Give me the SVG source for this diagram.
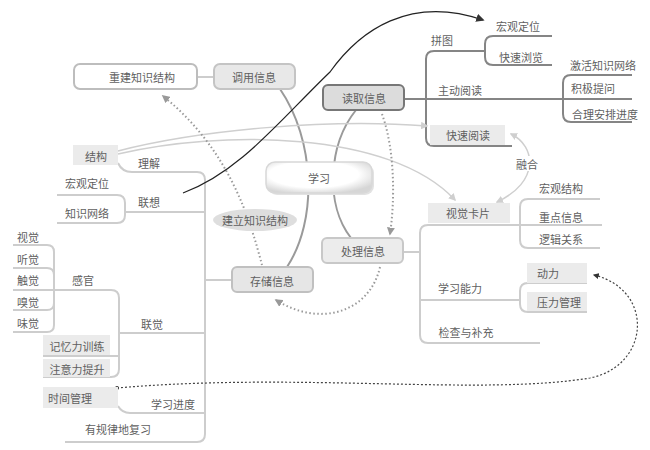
<svg xmlns="http://www.w3.org/2000/svg" width="650" height="450" viewBox="0 0 650 450">
<style>
.t{font-family:"Noto Sans CJK SC","Noto Sans",sans-serif;font-size:11px;fill:#5f5f5f;dominant-baseline:central}
.m{text-anchor:middle}
.ln{fill:none;stroke:#cdcdcd;stroke-width:2}
.dk{fill:none;stroke:#858585;stroke-width:2}
.hub{fill:none;stroke:#9a9a9a;stroke-width:2}
.gbox{fill:#ebebeb}
.dot{fill:none;stroke:#9a9a9a;stroke-width:2;stroke-dasharray:1.5 2.5}
.thin{fill:none;stroke:#cfcfcf;stroke-width:1.5}
</style>
<defs>
<marker id="ag" viewBox="0 0 10 10" refX="8" refY="5" markerWidth="4" markerHeight="4" orient="auto"><path d="M0,0 L10,5 L0,10 z" fill="#999"/></marker>
<marker id="al" viewBox="0 0 10 10" refX="8" refY="5" markerWidth="5" markerHeight="5" orient="auto-start-reverse"><path d="M0,0 L10,5 L0,10 z" fill="#cfcfcf"/></marker>
<marker id="ad" viewBox="0 0 10 10" refX="8" refY="5" markerWidth="5" markerHeight="5" orient="auto"><path d="M0,0 L10,5 L0,10 z" fill="#333"/></marker>
<marker id="ad2" viewBox="0 0 10 10" refX="8" refY="5" markerWidth="7" markerHeight="7" orient="auto"><path d="M0,0 L10,5 L0,10 z" fill="#333"/></marker>
<marker id="dotstart" viewBox="0 0 10 10" refX="5" refY="5" markerWidth="4" markerHeight="4"><circle cx="5" cy="5" r="4" fill="#333"/></marker>
<radialGradient id="gl" cx="45%" cy="40%" r="65%">
<stop offset="65%" stop-color="#ffffff"/><stop offset="100%" stop-color="#d6d6d6"/>
</radialGradient>
</defs>
<rect width="650" height="450" fill="#fff"/>

<g id="connectors">
<path class="hub" d="M280,89 C315,140 318,220 287,267"/>
<path class="hub" d="M356,110 C328,145 325,205 351,238"/>
<line class="ln" x1="197" y1="77" x2="214" y2="77"/>
<path class="ln" d="M118,163 Q122,172 132,172 L197,172 Q205,172 205,180 L205,434 Q205,442 197,442 L65,442"/>
<path class="ln" d="M205,212 L125,212"/>
<path class="ln" d="M57,195 L117,195 Q125,195 125,203 L125,215 Q125,223 117,223 L57,223"/>
<path class="ln" d="M205,280 L232,280"/>
<path class="ln" d="M205,333 L119,333"/>
<path class="ln" d="M13,290 L111,290 Q119,290 119,298 L119,369 Q119,377 111,377 L43,377"/>
<path class="ln" d="M43,356 L119,356"/>
<path class="ln" d="M13,245 L47,245 Q54,245 54,252 L54,325 Q54,332 47,332 L13,332"/>
<path class="ln" d="M13,268 L47,268 Q54,268 54,275"/>
<path class="ln" d="M13,310 L47,310 Q54,310 54,303"/>
<path class="ln" d="M118,406 Q122,413 130,413 L205,413"/>
<path class="dk" d="M404,99 L632,99"/>
<path class="dk" d="M485,51 L434,51 Q426,51 426,59 L426,138 Q426,146 434,146 L512,146"/>
<path class="dk" d="M552,36 L493,36 Q485,36 485,44 L485,57 Q485,65 493,65 L552,65"/>
<path class="dk" d="M632,75 L571,75 Q563,75 563,83 L563,114 Q563,122 571,122 L632,122"/>
<path class="ln" d="M403,252 L420,252"/>
<path class="ln" d="M602,225 L428,225 Q420,225 420,233 L420,335 Q420,343 428,343 L540,343"/>
<path class="ln" d="M420,300 L520,300"/>
<path class="ln" d="M600,199 L528,199 Q520,199 520,207 L520,240 Q520,248 528,248 L600,248"/>
<path class="ln" d="M587,283 L528,283 Q520,283 520,291 L520,304 Q520,312 528,312 L587,312"/>
<path class="thin" d="M118,151 C200,130 330,118 427,126" marker-end="url(#al)"/>
<path class="thin" d="M118,154 C220,130 390,130 455,200" marker-end="url(#al)"/>
<path class="thin" d="M511,134 C536,146 540,182 497,202" marker-start="url(#al)" marker-end="url(#al)"/>
<path class="dot" d="M262,265 C250,220 230,150 163,96" marker-end="url(#ag)"/>
<path class="dot" d="M382,114 C395,150 395,200 390,234" marker-end="url(#ag)"/>
<path class="dot" d="M380,267 C370,312 320,328 276,300" marker-end="url(#ag)"/>
<path fill="none" stroke="#444" stroke-width="1.2" stroke-dasharray="2 2" d="M117,388 C300,372 480,396 590,378 C650,366 655,290 594,275" marker-start="url(#dotstart)" marker-end="url(#ad)"/>
<path fill="none" stroke="#222" stroke-width="1.2" d="M183,193 C240,172 280,120 330,72 C360,30 410,-5 483,20" marker-end="url(#ad2)"/>
</g>

<g id="n-rebuild"><rect x="74" y="64" width="123" height="25" rx="6" fill="#fff" stroke="#bdbdbd" stroke-width="2"/><text class="t m" x="142" y="77">重建知识结构</text></g>
<g id="n-call"><rect x="214" y="64" width="81" height="25" rx="6" fill="#e8e8e8" stroke="#c4c4c4" stroke-width="2"/><text class="t m" x="254" y="77">调用信息</text></g>
<g id="n-read"><rect x="323" y="85" width="81" height="25" rx="5" fill="#dcdcdc" stroke="#777" stroke-width="2"/><text class="t m" x="364" y="98">读取信息</text></g>
<g id="n-learn"><rect x="268" y="164" width="106" height="31" rx="9" fill="#e2e2e2"/><rect x="266" y="162" width="106" height="31" rx="9" fill="url(#gl)" stroke="#d8d8d8" stroke-width="1.5"/><text class="t m" x="319" y="178">学习</text></g>
<g id="n-process"><rect x="322" y="238" width="81" height="25" rx="5" fill="#ececec" stroke="#c8c8c8" stroke-width="2"/><text class="t m" x="363" y="251">处理信息</text></g>
<g id="n-store"><rect x="232" y="267" width="81" height="25" rx="5" fill="#e6e6e6" stroke="#c0c0c0" stroke-width="2"/><text class="t m" x="272" y="281">存储信息</text></g>
<g id="n-build"><ellipse cx="255" cy="220" rx="42" ry="11" fill="#dedede"/><text class="t m" x="255" y="220">建立知识结构</text></g>

<g id="n-structure"><rect class="gbox" x="73" y="145" width="45" height="20"/><text class="t m" x="96" y="156">结构</text></g>
<g id="n-understand"><text class="t" x="138" y="163">理解</text></g>
<g id="n-macro1"><text class="t m" x="87" y="183">宏观定位</text></g>
<g id="n-network"><text class="t m" x="87" y="213">知识网络</text></g>
<g id="n-associate"><text class="t" x="138" y="202">联想</text></g>
<g id="n-senses">
<text class="t m" x="28" y="237">视觉</text>
<text class="t m" x="28" y="259">听觉</text>
<text class="t m" x="28" y="280">触觉</text>
<text class="t m" x="28" y="302">嗅觉</text>
<text class="t m" x="28" y="323">味觉</text>
</g>
<g id="n-sense"><text class="t m" x="83" y="280">感官</text></g>
<g id="n-synes"><text class="t m" x="152" y="324">联觉</text></g>
<g id="n-memory"><rect class="gbox" x="43" y="335" width="67" height="20"/><text class="t m" x="77" y="346">记忆力训练</text></g>
<g id="n-attention"><rect class="gbox" x="43" y="359" width="67" height="18"/><text class="t m" x="77" y="369">注意力提升</text></g>
<g id="n-time"><rect class="gbox" x="43" y="387" width="75" height="21"/><text class="t" x="48" y="398">时间管理</text></g>
<g id="n-progress"><text class="t m" x="173" y="404">学习进度</text></g>
<g id="n-review"><text class="t m" x="118" y="429">有规律地复习</text></g>

<g id="n-puzzle"><text class="t m" x="442" y="40">拼图</text></g>
<g id="n-macro2"><text class="t m" x="518" y="26">宏观定位</text></g>
<g id="n-browse"><text class="t m" x="521" y="57">快速浏览</text></g>
<g id="n-active"><text class="t m" x="460" y="90">主动阅读</text></g>
<g id="n-activate"><text class="t m" x="603" y="65">激活知识网络</text></g>
<g id="n-ask"><text class="t m" x="593" y="88">积极提问</text></g>
<g id="n-plan"><text class="t m" x="605" y="114">合理安排进度</text></g>
<g id="n-fastread"><rect class="gbox" x="430" y="125" width="75" height="20"/><text class="t m" x="468" y="135">快速阅读</text></g>
<g id="n-fuse"><rect x="515" y="156" width="25" height="15" fill="#fff"/><text class="t m" x="527" y="164">融合</text></g>
<g id="n-card"><rect class="gbox" x="428" y="203" width="82" height="20"/><text class="t m" x="468" y="213">视觉卡片</text></g>
<g id="n-macrostruct"><text class="t m" x="561" y="188">宏观结构</text></g>
<g id="n-key"><text class="t m" x="561" y="217">重点信息</text></g>
<g id="n-logic"><text class="t m" x="561" y="239">逻辑关系</text></g>
<g id="n-ability"><text class="t m" x="460" y="288">学习能力</text></g>
<g id="n-motive"><rect class="gbox" x="527" y="263" width="60" height="20"/><text class="t m" x="548" y="273">动力</text></g>
<g id="n-stress"><rect class="gbox" x="527" y="292" width="60" height="19"/><text class="t m" x="559" y="302">压力管理</text></g>
<g id="n-check"><text class="t m" x="466" y="332">检查与补充</text></g>
</svg>
